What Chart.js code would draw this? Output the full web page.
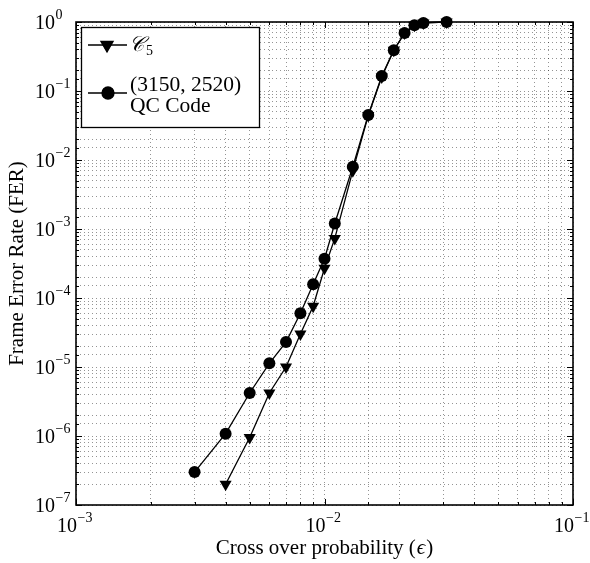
<!DOCTYPE html>
<html>
<head>
<meta charset="utf-8">
<script src="https://cdn.jsdelivr.net/npm/chart.js@4"></script>
<style>
  body { margin: 0; background: #fff; }
  #wrap { width: 590px; height: 563px; }
</style>
</head>
<body>
<div id="wrap"><canvas id="fer" width="590" height="563"></canvas></div>
<script>
// crossover probabilities (epsilon)
const epsQC = [0.003, 0.004, 0.005, 0.006, 0.007, 0.008, 0.009, 0.010, 0.011, 0.013, 0.015, 0.017, 0.019, 0.021, 0.023, 0.025, 0.031]
const ferQC = [3.0e-7, 1.08e-6, 4.2e-6, 1.13e-5, 2.3e-5, 6.0e-5, 1.58e-4, 3.7e-4, 1.2e-3, 8.0e-3, 4.5e-2, 0.165, 0.39, 0.69, 0.9, 0.97, 1.0]
const epsC5 = [0.004, 0.005, 0.006, 0.007, 0.008, 0.009, 0.010, 0.011, 0.013, 0.015, 0.017, 0.019, 0.021, 0.023, 0.025, 0.031]
const ferC5 = [2.0e-7, 9.5e-7, 4.2e-6, 1.0e-5, 3.0e-5, 7.6e-5, 2.7e-4, 7.3e-4, 7.0e-3, 4.4e-2, 0.16, 0.39, 0.69, 0.9, 0.97, 1.0]
const xDecades = [-3, -2, -1]
const yDecades = [0, -1, -2, -3, -4, -5, -6, -7]
const xTitle = 'Cross over probability ('
const yTitle = 'Frame Error Rate (FER)'

const serif = '"Liberation Serif", "DejaVu Serif", serif'

function toPoints(xs, ys) {
    return xs.map((x, i) => ({ x: x, y: ys[i] }))
}

function powerLabel(ctx, x, y, exp, anchor) {
    // draws 10^exp with "10" placed by anchor ('left' = start at x, 'tick' = 10 ends at x)
    const base = '10'
    const sup = exp < 0 ? '\u2212' + Math.abs(exp) : String(exp)
    ctx.font = '20px ' + serif
    const bw = ctx.measureText(base).width
    const bx = anchor == 'left' ? x : x - bw
    ctx.textAlign = 'left'
    ctx.textBaseline = 'middle'
    ctx.fillText(base, bx, y)
    ctx.font = '14px ' + serif
    ctx.fillText(sup, bx + bw + 0.5, y - 9)
}

const framePlugin = {
    id: 'frame',
    beforeDatasetsDraw(chart) {
        const { ctx, chartArea: a, scales } = chart
        ctx.save()
        ctx.strokeStyle = '#000'
        // inward tick marks on all four sides
        ctx.lineWidth = 1
        scales.x.ticks.forEach(t => {
            const px = Math.round(scales.x.getPixelForValue(t.value)) + 0.5
            const len = t.major ? 6 : 3
            ctx.beginPath()
            ctx.moveTo(px, a.bottom); ctx.lineTo(px, a.bottom - len)
            ctx.moveTo(px, a.top); ctx.lineTo(px, a.top + len)
            ctx.stroke()
        })
        scales.y.ticks.forEach(t => {
            const py = Math.round(scales.y.getPixelForValue(t.value)) + 0.5
            const len = t.major ? 6 : 3
            ctx.beginPath()
            ctx.moveTo(a.left, py); ctx.lineTo(a.left + len, py)
            ctx.moveTo(a.right, py); ctx.lineTo(a.right - len, py)
            ctx.stroke()
        })
        ctx.lineWidth = 1.6
        ctx.strokeRect(a.left, a.top, a.right - a.left, a.bottom - a.top)

        // tick labels
        ctx.fillStyle = '#000'
        xDecades.forEach(e => {
            const px = scales.x.getPixelForValue(Math.pow(10, e))
            powerLabel(ctx, px + 1, a.bottom + 22, e, 'tick')
        })
        yDecades.forEach(e => {
            const py = scales.y.getPixelForValue(Math.pow(10, e))
            powerLabel(ctx, 35, py + 2, e, 'left')
        })

        // axis titles
        ctx.font = '21px ' + serif
        ctx.textBaseline = 'middle'
        const w1 = ctx.measureText(xTitle).width
        ctx.font = 'italic 21px ' + serif
        const w2 = ctx.measureText('\u03f5').width
        ctx.font = '21px ' + serif
        const w3 = ctx.measureText(')').width
        let tx = (a.left + a.right) / 2 - (w1 + w2 + w3 + 2) / 2
        ctx.textAlign = 'left'
        ctx.fillText(xTitle, tx, 548)
        ctx.font = 'italic 21px ' + serif
        ctx.fillText('\u03f5', tx + w1 + 1, 548)
        ctx.font = '21px ' + serif
        ctx.fillText(')', tx + w1 + w2 + 2, 548)

        ctx.textAlign = 'center'
        ctx.translate(17, (a.top + a.bottom) / 2)
        ctx.rotate(-Math.PI / 2)
        ctx.fillText(yTitle, 0, 0)
        ctx.restore()
    },
    afterDraw(chart) {
        // legend box, top-left inside the axes
        const { ctx } = chart
        ctx.save()
        ctx.fillStyle = '#fff'
        ctx.fillRect(81, 27, 178, 100)
        ctx.strokeStyle = '#000'
        ctx.lineWidth = 1.3
        ctx.strokeRect(81.5, 27.5, 178, 100)

        ctx.lineWidth = 1.3
        ctx.beginPath()
        ctx.moveTo(88, 45); ctx.lineTo(127, 45)
        ctx.moveTo(88, 93); ctx.lineTo(127, 93)
        ctx.stroke()
        ctx.fillStyle = '#000'
        Chart.helpers.drawPoint(ctx, { pointStyle: 'triangle', radius: 7, rotation: 180, borderWidth: 1 }, 107, 45)
        ctx.fill()
        Chart.helpers.drawPoint(ctx, { pointStyle: 'circle', radius: 6, rotation: 0, borderWidth: 1 }, 108, 93)
        ctx.fill()

        ctx.textAlign = 'left'
        ctx.textBaseline = 'middle'
        ctx.font = 'italic 21px ' + serif
        ctx.fillText('\ud835\udc9e', 129, 45)
        ctx.font = '14px ' + serif
        ctx.fillText('5', 146, 51)
        ctx.font = '21.5px ' + serif
        ctx.fillText('(3150, 2520)', 130, 85)
        ctx.fillText('QC Code', 130, 106)
        ctx.restore()
    }
}

const logGrid = {
    display: true,
    drawTicks: false,
    color: 'rgba(0,0,0,0.42)',
    lineWidth: 1
}
const dotted = { display: false, dash: [1, 3] }

new Chart(document.getElementById('fer'), {
    type: 'line',
    data: {
        datasets: [
            {
                label: 'C5',
                data: toPoints(epsC5, ferC5),
                borderColor: '#000',
                backgroundColor: '#000',
                borderWidth: 1.3,
                pointStyle: 'triangle',
                pointRotation: 180,
                pointRadius: 7,
                pointBorderWidth: 0,
                clip: false
            },
            {
                label: '(3150, 2520) QC Code',
                data: toPoints(epsQC, ferQC),
                borderColor: '#000',
                backgroundColor: '#000',
                borderWidth: 1.3,
                pointStyle: 'circle',
                pointRadius: 6,
                pointBorderWidth: 0,
                clip: false
            }
        ]
    },
    options: {
        responsive: false,
        animation: false,
        layout: { padding: { left: 76, right: 17, top: 22, bottom: 58 } },
        plugins: {
            legend: { display: false },
            tooltip: { enabled: false }
        },
        scales: {
            x: {
                type: 'logarithmic',
                min: 0.001,
                max: 0.1,
                ticks: { display: false },
                grid: logGrid,
                border: dotted
            },
            y: {
                type: 'logarithmic',
                min: 1e-7,
                max: 1,
                ticks: { display: false },
                grid: logGrid,
                border: dotted
            }
        }
    },
    plugins: [framePlugin]
})
</script>
</body>
</html>
